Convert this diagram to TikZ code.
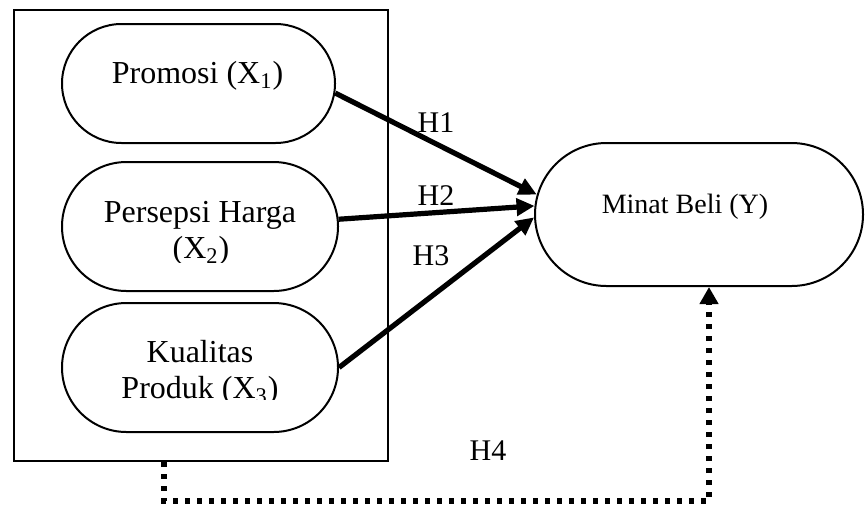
\documentclass[tikz,border=0pt]{standalone}
\usepackage{fontspec}
\setmainfont{Liberation Serif}
\usetikzlibrary{shapes.misc,arrows.meta,calc}
\begin{document}
\begin{tikzpicture}[x=0.5pt,y=-0.5pt,
  stadium/.style={draw,line width=1pt,rounded rectangle,inner sep=0pt},
  lbl/.style={anchor=base,inner sep=0pt,font=\fontsize{16pt}{19pt}\selectfont},
  ylbl/.style={anchor=base,inner sep=0pt,font=\fontsize{14pt}{17pt}\selectfont},
  hlbl/.style={anchor=base,inner sep=0pt,font=\fontsize{15pt}{18pt}\selectfont},
  hyp/.style={line width=2.6pt,-{Triangle[length=9pt,width=8.5pt]}},
  dotline/.style={line width=2.7pt,dash pattern=on 2.6pt off 3.4pt,-{Triangle[length=8.5pt,width=9pt]}}]
\useasboundingbox (0,0) rectangle (865,509);
% outer frame
\node[draw,line width=1pt,minimum width=187pt,minimum height=225.5pt,inner sep=0pt] (frame) at (201,235.5) {};
% stadium nodes
\node[stadium,minimum width=136.5pt,minimum height=59.5pt] (p1) at (198.5,83.5) {};
\node[stadium,minimum width=138pt,minimum height=64.5pt] (p2) at (200,226.5) {};
\node[stadium,minimum width=138pt,minimum height=64.5pt] (p3) at (200,367.5) {};
\node[stadium,minimum width=164pt,minimum height=71.5pt] (y) at (699,214.5) {};
% texts
\node[lbl] (t1) at (197.5,83) {Promosi (X\textsubscript{1})};
\begin{scope}
\clip (62,162) rectangle (338,262);
\node[lbl] (t2a) at (200,222) {Persepsi Harga};
\node[lbl] (t2b) at (201,258) {(X\textsubscript{2})};
\end{scope}
\begin{scope}
\clip (62,303) rectangle (338,399.5);
\node[lbl] (t3a) at (200,362) {Kualitas};
\node[lbl] (t3b) at (200,398) {Produk (X\textsubscript{3})};
\end{scope}
\node[ylbl] (ty) at (685,213) {Minat Beli (Y)};
% hypothesis arrows
\draw[hyp] (p1.-4) -- (y.173);
\draw[hyp] (p2.3) -- (y.177);
\draw[hyp] (p3.east) -- (y.181);
\node[hlbl] (h1) at (436,132) {H1};
\node[hlbl] (h2) at (436,205) {H2};
\node[hlbl] (h3) at (431,265) {H3};
\node[hlbl] (h4) at (488,460) {H4};
% dotted H4 path
\coordinate (c1) at (164,501);
\coordinate (c2) at (709,501);
\draw[dotline] (frame.south -| c1) -- (c1) -- (c2) -- (y.south -| c2);
\end{tikzpicture}
\end{document}
